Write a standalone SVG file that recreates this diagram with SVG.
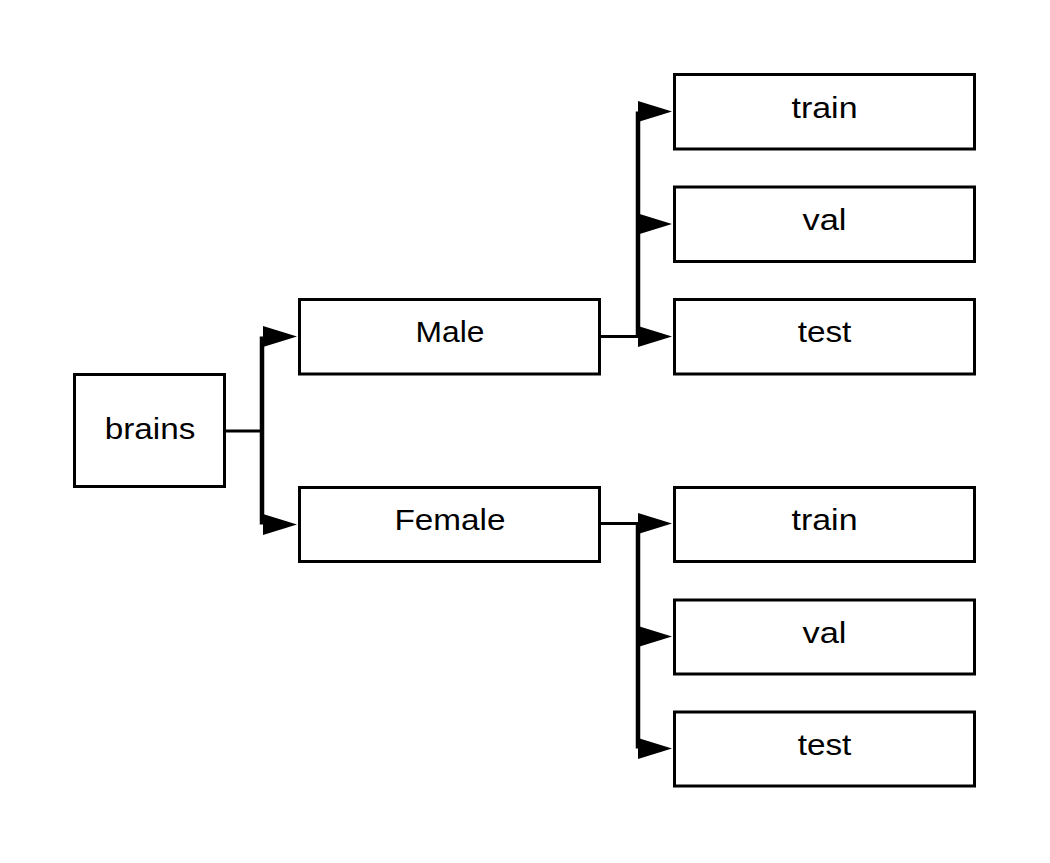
<svg xmlns="http://www.w3.org/2000/svg" width="1050" height="863" viewBox="0 0 1050 863">
<style>
.box{fill:#fff;stroke:#000;stroke-width:3}
.lbl{font-family:"Liberation Sans",Arial,sans-serif;font-size:30px;fill:#000;text-anchor:middle}
.ln{fill:none;stroke:#000;stroke-width:3}
.tr{fill:none;stroke:#000;stroke-width:4.5}
.ah{fill:#000}
</style>
<rect width="1050" height="863" fill="#fff"/>
<g id="connectors">
<path class="ln" d="M224,431 H262"/>
<path class="tr" d="M262,336.5 V524.5"/>
<polygon class="ah" points="263,326 297,336.5 263,347"/>
<polygon class="ah" points="263,514 297,524.5 263,535"/>
<path class="ln" d="M600,336.5 H638"/>
<path class="tr" d="M638,111.5 V336.5"/>
<polygon class="ah" points="638,101 672,111.5 638,122"/>
<polygon class="ah" points="638,213.5 672,224 638,234.5"/>
<polygon class="ah" points="638,326 672,336.5 638,347"/>
<path class="ln" d="M600,523.5 H638"/>
<path class="tr" d="M638,523.5 V748.5"/>
<polygon class="ah" points="638,513 672,523.5 638,534"/>
<polygon class="ah" points="638,626 672,636.5 638,647"/>
<polygon class="ah" points="638,738 672,748.5 638,759"/>
</g>
<g id="brains"><rect class="box" x="74.5" y="374.5" width="150" height="112"/><text class="lbl" x="150" y="438.5" textLength="90.7" lengthAdjust="spacingAndGlyphs">brains</text></g>
<g id="male"><rect class="box" x="299.5" y="299.5" width="300" height="74.5"/><text class="lbl" x="450" y="342" textLength="68.9" lengthAdjust="spacingAndGlyphs">Male</text></g>
<g id="female"><rect class="box" x="299.5" y="487.5" width="300" height="74"/><text class="lbl" x="450" y="530" textLength="111" lengthAdjust="spacingAndGlyphs">Female</text></g>
<g id="m_train"><rect class="box" x="674.5" y="74.5" width="300" height="74.5"/><text class="lbl" x="824.5" y="117.5" textLength="66" lengthAdjust="spacingAndGlyphs">train</text></g>
<g id="m_val"><rect class="box" x="674.5" y="187" width="300" height="74.5"/><text class="lbl" x="824.5" y="230" textLength="44" lengthAdjust="spacingAndGlyphs">val</text></g>
<g id="m_test"><rect class="box" x="674.5" y="299.5" width="300" height="74.5"/><text class="lbl" x="824.5" y="342" textLength="53.7" lengthAdjust="spacingAndGlyphs">test</text></g>
<g id="f_train"><rect class="box" x="674.5" y="487.5" width="300" height="74"/><text class="lbl" x="824.5" y="530" textLength="66" lengthAdjust="spacingAndGlyphs">train</text></g>
<g id="f_val"><rect class="box" x="674.5" y="600" width="300" height="74"/><text class="lbl" x="824.5" y="642.5" textLength="44" lengthAdjust="spacingAndGlyphs">val</text></g>
<g id="f_test"><rect class="box" x="674.5" y="712" width="300" height="74"/><text class="lbl" x="824.5" y="755" textLength="53.7" lengthAdjust="spacingAndGlyphs">test</text></g>
</svg>
